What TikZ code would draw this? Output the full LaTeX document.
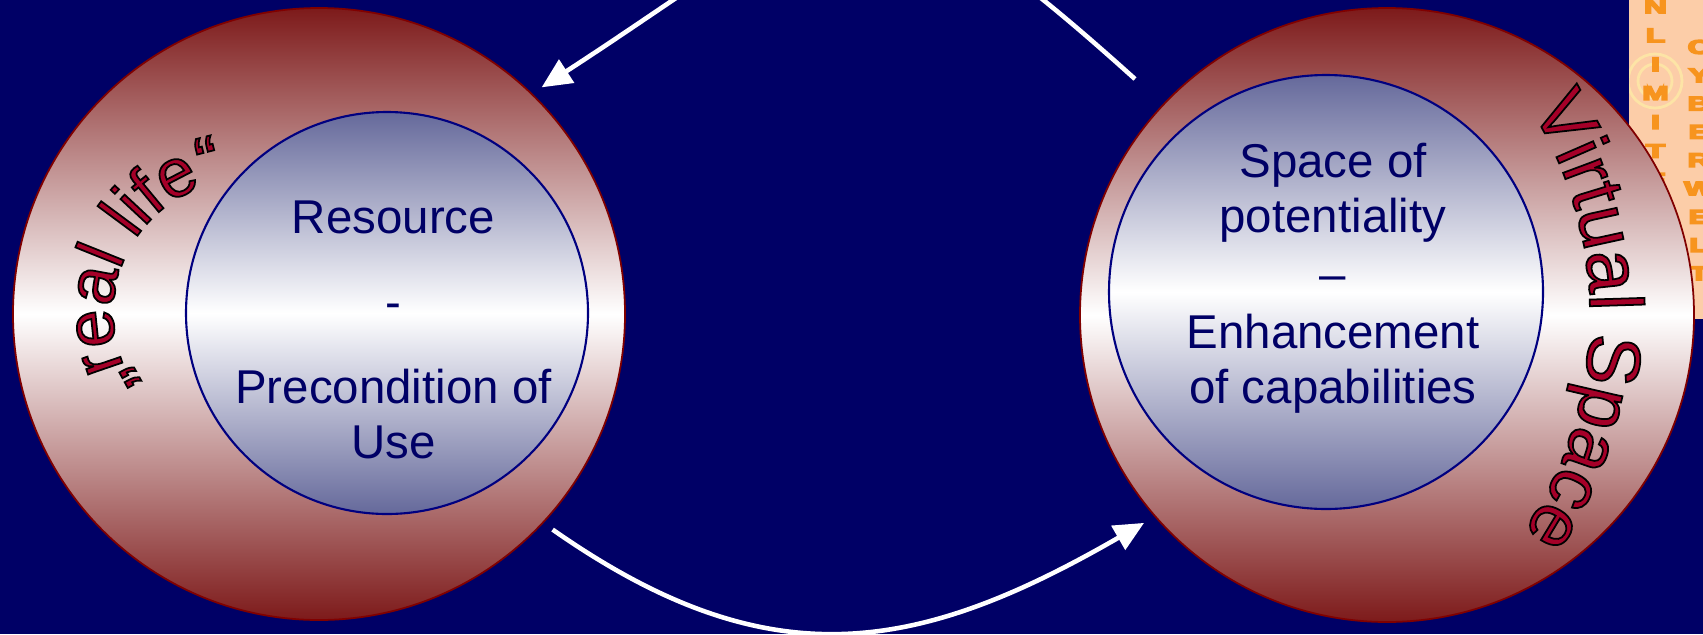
\documentclass[tikz,border=0pt]{standalone}
\usepackage{fontspec}
\setmainfont{Liberation Sans}
\usepackage{graphicx}
\usetikzlibrary{arrows.meta,decorations.text}
\definecolor{navybg}{HTML}{000066}
\definecolor{ringred}{HTML}{7D1A1A}
\definecolor{ringedge}{HTML}{800000}
\definecolor{coreblue}{HTML}{65699B}
\definecolor{coreedge}{HTML}{000080}
\definecolor{inktext}{HTML}{000066}
\definecolor{wordred}{HTML}{A50028}
\definecolor{logobg}{HTML}{FCCDA8}
\definecolor{logoink}{HTML}{F7941E}
\definecolor{logoline}{HTML}{FDE4A6}
\newcommand\outlined{\special{pdf:literal direct 0 0 0 RG 0.5 w 2 Tr}}
\newcommand\vsfont{\fontsize{21.5}{21.5}\selectfont}
\newcommand\rlfont{\fontsize{19.5}{19.5}\selectfont}
\newcommand\logochar[1]{\scalebox{1.6}[1]{\special{pdf:literal direct 0.969 0.58 0.118 RG 0.4 w 2 Tr}#1}}

\begin{document}
\begin{tikzpicture}[
  ring/.style={circle, draw=ringedge, line width=0.5pt, top color=ringred,
               bottom color=ringred, middle color=white, inner sep=0pt, outer sep=0pt},
  core/.style={circle, draw=coreedge, line width=0.6pt, top color=coreblue,
               bottom color=coreblue, middle color=white, inner sep=0pt, outer sep=0pt},
  body/.style={text=inktext, align=center, inner sep=0pt, anchor=north,
               font=\fontsize{13.5}{15.8}\selectfont},
  logoletter/.style={text=logoink, font=\fontsize{5.6}{5.6}\selectfont\bfseries, inner sep=0pt},
  flow/.style={-{Triangle[length=8.5pt, width=7.7pt]}, white, line width=1.3pt}
]
  \useasboundingbox (0,0) rectangle (17.03,6.34);
  \fill[navybg] (0,0) rectangle (17.03,6.34);

  \begin{scope}
    \clip (16.29,3.15) rectangle (17.03,6.34);
    \fill[logobg] (16.29,3.15) rectangle (17.03,6.34);
    \draw[logoline, line width=0.8pt] (16.55,5.53) circle[radius=0.27] (16.55,5.53) circle[radius=0.17];
    \foreach \ch [count=\i] in {N,L,I,M,I,T,E}
      \node[logoletter] at (16.555,{6.275-0.289*(\i-1)}) {\logochar{\ch}};
    \foreach \ch [count=\i] in {C,Y,B,E,R,W,E,L,T}
      \node[logoletter] at (16.99,{5.87-0.283*(\i-1)}) {\logochar{\ch}};
  \end{scope}

  \node[ring, minimum size=6.12cm] (realring) at (3.19,3.20) {};
  \node[core, minimum size=4.02cm] (realcore) at (3.87,3.21) {};
  \node[ring, minimum size=6.14cm] (virtring) at (13.87,3.19) {};
  \node[core, minimum size=4.34cm] (virtcore) at (13.26,3.42) {};

  \node[body] (realtxt) at (3.935,4.334) {Resource\\[8.3pt]-\\[8.3pt]Precondition of\\Use};
  \node[body] (virttxt) at (13.33,4.916) {Space of\\potentiality\\[0.6pt]–\\[0.6pt]Enhancement\\of capabilities};

  \coordinate (topstart) at (11.35,5.55);
  \draw[flow, shorten >=0.12cm] (topstart) to[out=138, in=33, looseness=1.6] (realring.46);
  \draw[flow, shorten <=0.12cm, shorten >=0.13cm] (realring.-43) to[out=-35, in=210, looseness=1.15] (virtring.221);

  \path[decorate, decoration={text along path, text align=center,
    text={|\rlfont\color{wordred}\outlined|„real life“}}]
    (2.47,3.21) ++(250:1.34) arc[start angle=250, end angle=63, radius=1.34];
  \path[decorate, decoration={text along path, text align=center,
    text={|\vsfont\color{wordred}\outlined|Virtual Space}}]
    (12.03,3.19) ++(42:3.87) arc[start angle=42, end angle=-44, radius=3.87];

\end{tikzpicture}
\end{document}
